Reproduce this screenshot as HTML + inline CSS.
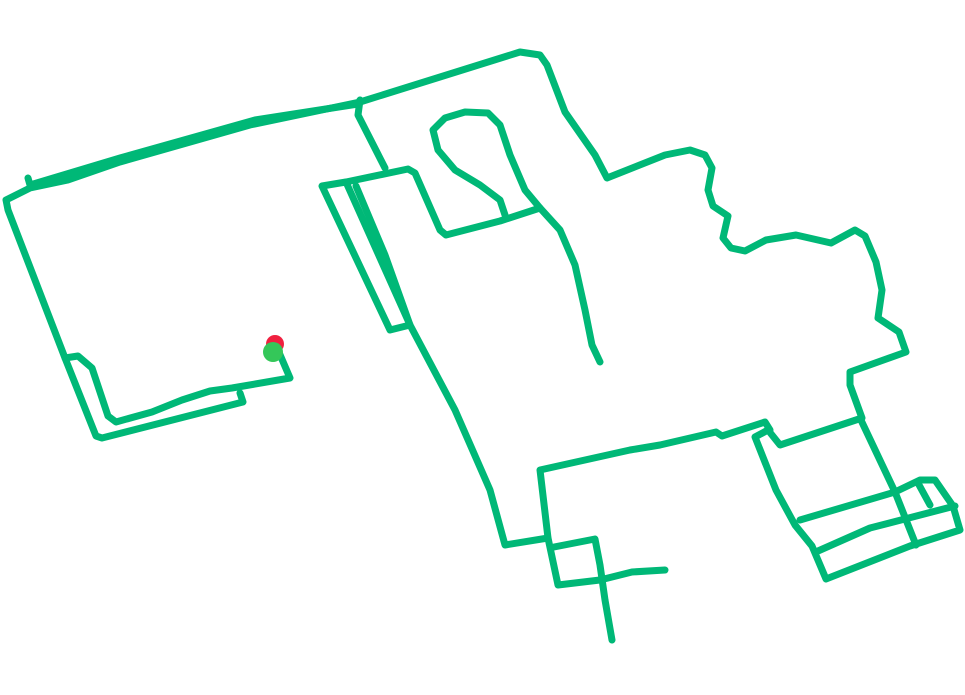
<!DOCTYPE html>
<html><head><meta charset="utf-8"><style>html,body{margin:0;background:#fff;width:965px;height:695px;overflow:hidden}</style></head>
<body>
<svg width="965" height="695" viewBox="0 0 965 695">
<g fill="none" stroke="#00b877" stroke-width="7" stroke-linejoin="round" stroke-linecap="round">
<polyline points="278,350 290,378 232,388 210,391 182,400 152,412 116,422 108,416 92,368 78,356 65,358 96,436 102,438 243,402 240,393"/>
<polyline points="65,358 8,210 6,200 30,188 68,180 120,162 250,125 360,102 520,52 540,55 547,65 565,112 595,155 607,178 665,155 690,150 705,155 712,168 708,190 713,206 728,216 723,238 731,248 745,251 766,240 796,235 831,243 855,230 865,236 876,262 882,290 878,318 899,332 906,352 850,372 850,385 862,418 780,445 768,430 755,437 776,490 795,525 812,546 826,579 910,546 960,530 953,506 935,480 920,480 895,492 800,520"/>
<polyline points="28,178 30,185 120,158 255,120 358,104"/>
<polyline points="360,100 358,115 385,168"/>
<polyline points="322,186 390,330 410,325 346,182 322,186"/>
<polyline points="346,182 408,169 415,173 440,230 446,235 500,221 540,208 560,230 575,265 585,310 592,345 600,362"/>
<polyline points="505,215 500,200 480,185 455,170 438,150 433,130 445,118 465,112 488,113 500,125 510,155 525,190 540,208"/>
<polyline points="356,186 385,255 410,325 455,410 490,490 505,545 548,538 540,470 630,450 660,445 716,432 722,436 765,422 770,430"/>
<polyline points="548,538 558,585 600,580 632,572 665,570"/>
<polyline points="554,547 595,539 600,565 605,600 612,640"/>
<polyline points="860,418 895,492 916,545"/>
<polyline points="818,551 870,528 955,506"/>
<polyline points="918,483 930,505"/>
</g>
<circle cx="275" cy="344" r="9" fill="#f0203f"/>
<circle cx="273" cy="352" r="10" fill="#34c759"/>
</svg>
</body></html>
